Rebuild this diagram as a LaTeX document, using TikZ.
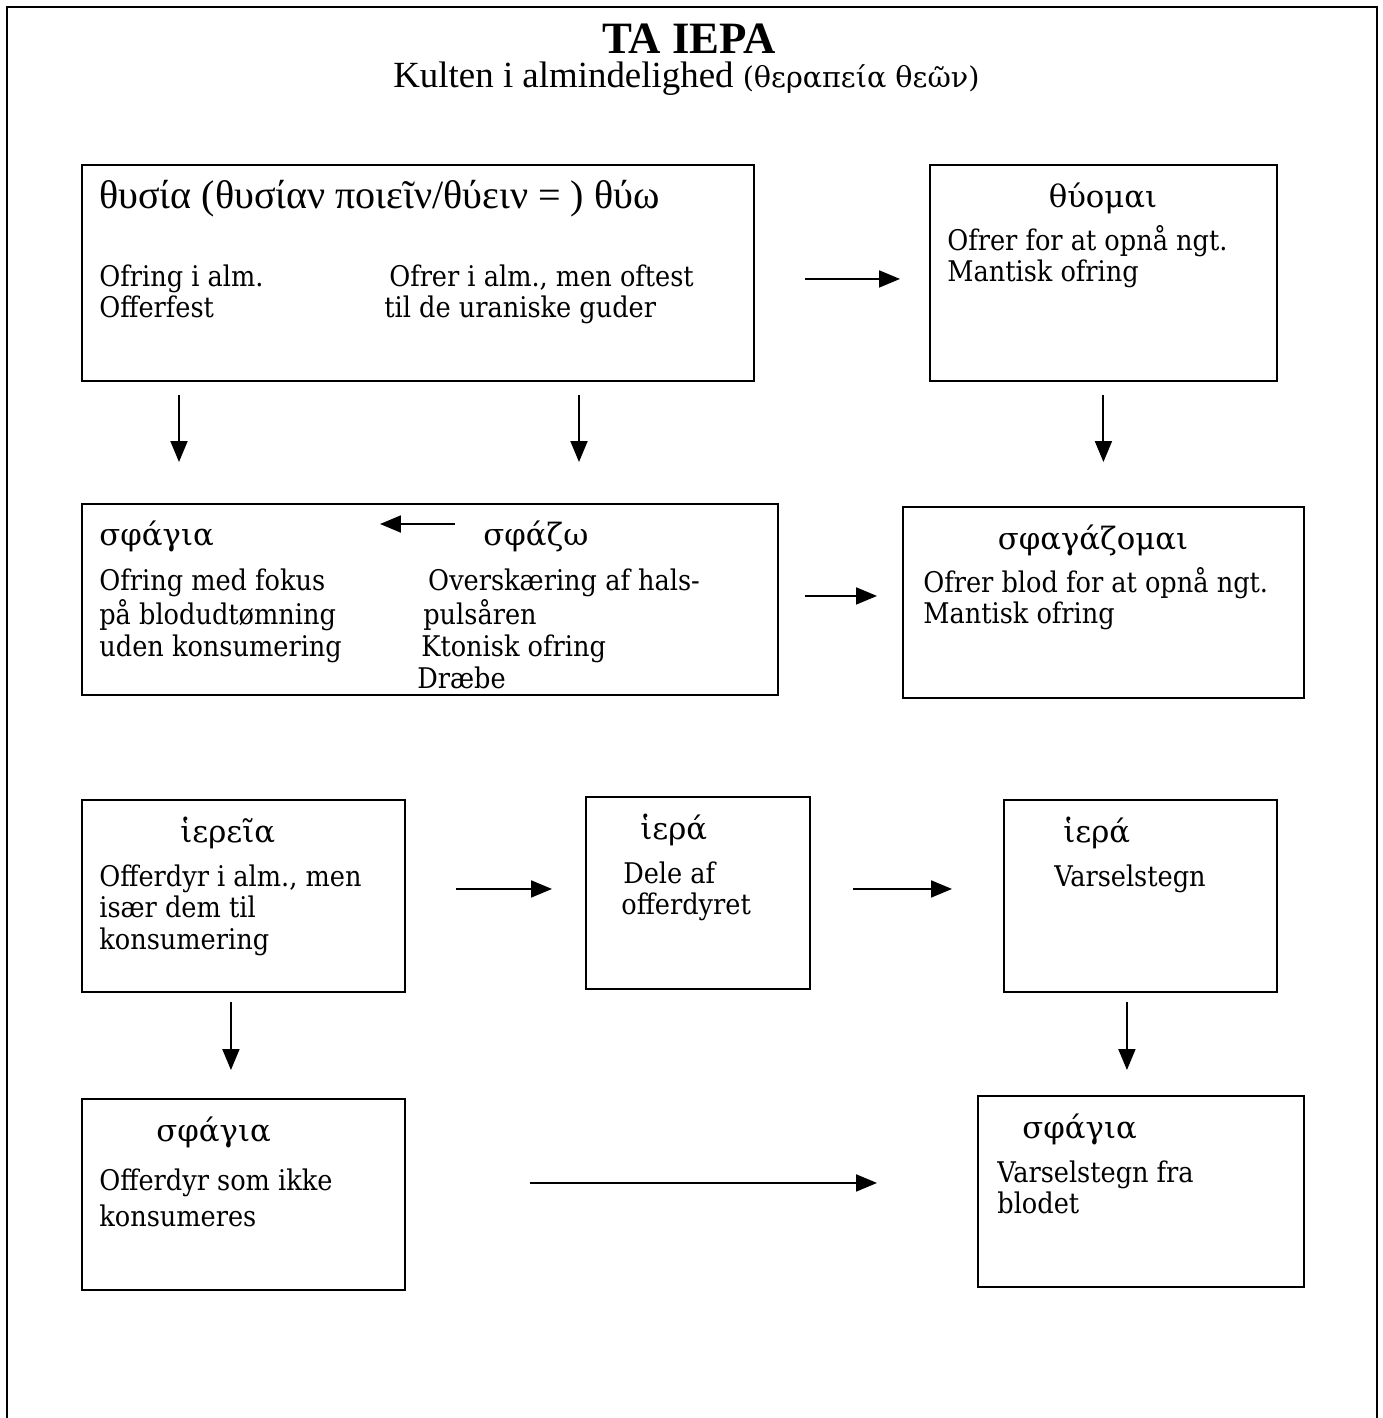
\documentclass[tikz,border=0pt]{standalone}
\usepackage{fontspec}
\setmainfont{Liberation Serif}
\newfontfamily\bodyfont{DejaVu Serif Condensed}
\newfontfamily\headfont{DejaVu Serif}
\usetikzlibrary{arrows.meta}
\newcommand{\lines}[1]{\begin{tabular}[t]{@{}l@{}}#1\end{tabular}}
\tikzset{
  frame/.style={line width=1.4pt},
  box/.style={draw, line width=1.1pt, anchor=north west, inner sep=0pt},
  txt/.style={anchor=base west, inner sep=0pt,
              font=\bodyfont\fontsize{16.2}{18.1}\selectfont},
  greek/.style={txt, font=\headfont\fontsize{17.5}{20}\selectfont},
  flow/.style={-{Triangle[length=0.42cm, width=0.34cm]}, line width=1.1pt}
}

\begin{document}
\begin{tikzpicture}[x=0.02cm, y=-0.02cm]
  \useasboundingbox (0,0) rectangle (1383,1418);
  \draw[frame] (7,1418) |- (1377,7) -- (1377,1418);

  % title
  \node[anchor=base, inner sep=0pt, font=\bfseries\fontsize{25.5}{30}\selectfont]
    (title) at (689,53) {TA IEPA};
  \node[anchor=base west, inner sep=0pt, font=\fontsize{21}{24}\selectfont]
    (subtitle) at (393,87)
    {Kulten\ i\ almindelighed\ {\headfont\fontsize{16.3}{18}\selectfont(θεραπεία\ θεῶν)}};

  % boxes
  \node[box, minimum width=13.44cm, minimum height=4.32cm] (thysia) at (81,164) {};
  \node[box, minimum width=6.94cm, minimum height=4.32cm] (thyomai) at (929,164) {};
  \node[box, minimum width=13.92cm, minimum height=3.82cm] (sfagia) at (81,503) {};
  \node[box, minimum width=8.02cm, minimum height=3.82cm] (sfagazomai) at (902,506) {};
  \node[box, minimum width=6.46cm, minimum height=3.84cm] (hiereia) at (81,799) {};
  \node[box, minimum width=4.48cm, minimum height=3.84cm] (hieraA) at (585,796) {};
  \node[box, minimum width=5.46cm, minimum height=3.84cm] (hieraB) at (1003,799) {};
  \node[box, minimum width=6.46cm, minimum height=3.82cm] (sfagiaA) at (81,1098) {};
  \node[box, minimum width=6.52cm, minimum height=3.82cm] (sfagiaB) at (977,1095) {};

  % texts
  \node[txt, font=\fontsize{22.8}{25}\selectfont] (thysiaHead) at (99,208)
    {θυσία (θυσίαν ποιεῖν/θύειν = ) θύω};
  \node[txt] (thysiaL) at (99,286) {\lines{Ofring i alm.\\Offerfest}};
  \node[txt] (thysiaR) at (384,286) {\lines{\hspace*{2.8pt}Ofrer i alm., men oftest\\til de uraniske guder}};

  \node[greek, anchor=base] (thyomaiHead) at (1103,207) {θύομαι};
  \node[txt] (thyomaiTxt) at (947,250) {\lines{Ofrer for at opnå ngt.\\Mantisk ofring}};

  \node[greek] (sfagiaHead) at (99,545) {σφάγια};
  \node[greek] (sfazoHead) at (483,545) {σφάζω};
  \node[txt] (sfagiaL) at (99,590) {\lines{Ofring med fokus\\på blodudtømning\\uden konsumering}};
  \node[txt] (sfagiaR) at (417,590)
    {\lines{\hspace*{6.2pt}Overskæring af hals-\\\hspace*{3.4pt}pulsåren\\\hspace*{2.3pt}Ktonisk ofring\\Dræbe}};

  \node[greek, anchor=base] (sfagazomaiHead) at (1093,549) {σφαγάζομαι};
  \node[txt] (sfagazomaiTxt) at (923,592) {\lines{Ofrer blod for at opnå ngt.\\Mantisk ofring}};

  \node[greek] (hiereiaHead) at (180,842) {ἱερεῖα};
  \node[txt] (hiereiaTxt) at (99,886) {\lines{Offerdyr i alm., men\\især dem til\\konsumering}};

  \node[greek] (hieraAHead) at (640,839) {ἱερά};
  \node[txt] (hieraATxt) at (621,883) {\lines{\hspace*{1.1pt}Dele af\\offerdyret}};

  \node[greek] (hieraBHead) at (1063,842) {ἱερά};
  \node[txt] (hieraBTxt) at (1054,886) {Varselstegn};

  \node[greek] (sfagiaAHead) at (156,1141) {σφάγια};
  \node[txt, font=\bodyfont\fontsize{16.2}{21}\selectfont] (sfagiaATxt) at (99,1190)
    {\lines{Offerdyr som ikke\\konsumeres}};

  \node[greek] (sfagiaBHead) at (1022,1138) {σφάγια};
  \node[txt] (sfagiaBTxt) at (997,1182) {\lines{Varselstegn fra\\blodet}};

  % connectors
  \coordinate (colL) at (179,0);
  \coordinate (colM) at (579,0);
  \coordinate (killtip) at (380,524);
  \draw[flow, shorten <=1cm, shorten >=0.58cm]
    ([yshift=-0.12cm]thysia.east) -- ([yshift=-0.12cm]thysia.east -| thyomai.west);
  \draw[flow, shorten <=0.26cm, shorten >=0.82cm] (thysia.south -| colL) -- (sfagia.north -| colL);
  \draw[flow, shorten <=0.26cm, shorten >=0.82cm] (thysia.south -| colM) -- (sfagia.north -| colM);
  \draw[flow, shorten <=0.26cm, shorten >=0.88cm] (thyomai.south) -- (sfagazomai.north -| thyomai.south);
  \draw[flow, shorten <=0.56cm] (sfazoHead.west |- killtip) -- (killtip);
  \draw[flow, shorten <=0.52cm, shorten >=0.5cm]
    ([yshift=0.07cm]sfagia.east) -- ([yshift=0.07cm]sfagia.east -| sfagazomai.west);
  \draw[flow, shorten <=1cm, shorten >=0.66cm]
    ([yshift=0.14cm]hiereia.east) -- ([yshift=0.14cm]hiereia.east -| hieraA.west);
  \draw[flow, shorten <=0.84cm, shorten >=1.02cm]
    ([yshift=0.08cm]hieraA.east) -- ([yshift=0.08cm]hieraA.east -| hieraB.west);
  \draw[flow, shorten <=0.18cm, shorten >=0.56cm]
    ([xshift=-0.25cm]hiereia.south) -- ([xshift=-0.25cm]hiereia.south |- sfagiaA.north);
  \draw[flow, shorten <=0.18cm, shorten >=0.5cm]
    ([xshift=-0.27cm]hieraB.south) -- ([xshift=-0.27cm]hieraB.south |- sfagiaB.north);
  \draw[flow, shorten <=2.48cm, shorten >=2cm]
    ([yshift=0.23cm]sfagiaA.east) -- ([yshift=0.23cm]sfagiaA.east -| sfagiaB.west);
\end{tikzpicture}
\end{document}
